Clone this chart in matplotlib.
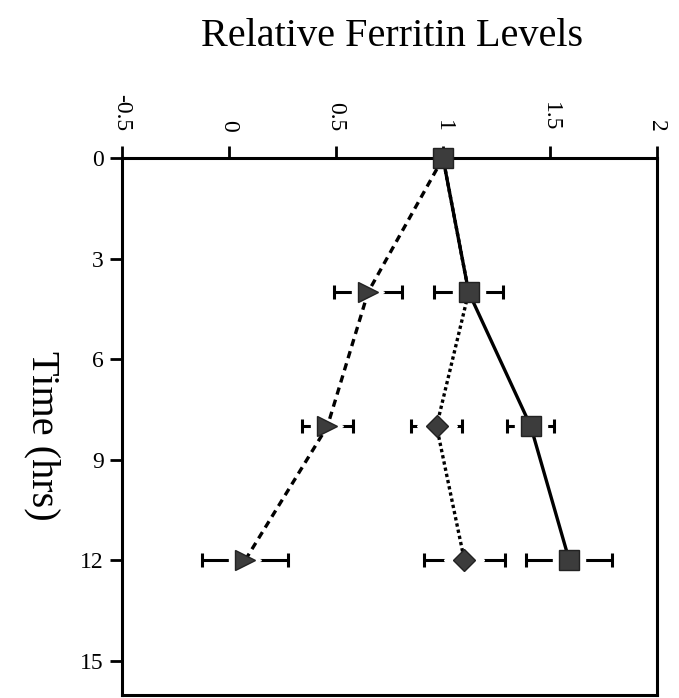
import matplotlib
matplotlib.use("Agg")
import matplotlib.pyplot as plt
import numpy as np

plt.rcParams["font.family"] = ["Liberation Serif", "DejaVu Serif"]

# Relative ferritin level over time for three treatments
hours = [0, 4, 8, 12]
square_vals = [1.0, 1.12, 1.41, 1.59]
square_err = [0.0, 0.16, 0.11, 0.20]
triangle_vals = [1.0, 0.65, 0.46, 0.075]
triangle_err = [0.0, 0.16, 0.12, 0.20]
diamond_vals = [1.0, 1.12, 0.97, 1.10]
diamond_err = [0.0, 0.0, 0.12, 0.19]

x_ticks = [-0.5, 0, 0.5, 1, 1.5, 2]
x_tick_labels = ["-0.5", "0", "0.5", "1", "1.5", "2"]
y_ticks = [0, 3, 6, 9, 12, 15]

W, H = 679, 698
fig = plt.figure(figsize=(W / 100, H / 100), dpi=100)
ax = fig.add_axes([122 / W, 1 - 694.5 / H, (657 - 122) / W, (694.5 - 158) / H])

fill = "#3c3c3c"
series = [
    (square_vals, square_err, "s", 14, "-", None, [0, 1, 2, 3]),
    (triangle_vals, triangle_err, ">", 14, "--", (2.2, 1.6), [1, 2, 3]),
    (diamond_vals, diamond_err, "D", 11, ":", (1.0, 0.9), [2, 3]),
]

for vals, err, mk, ms, ls, dashes, shown in series:
    vals = np.asarray(vals)
    err = np.asarray(err)
    t = np.asarray(hours)
    idx = [i for i in shown if err[i] > 0]
    # error bars, opened up around the marker by a white halo
    ax.errorbar(vals[idx], t[idx], xerr=err[idx], fmt="none", ecolor="black",
                elinewidth=2.2, capsize=5, capthick=2.2, zorder=2)
    ax.plot(vals[idx], t[idx], linestyle="none", marker=mk, ms=ms + 9,
            mfc="white", mec="white", zorder=3)
    line, = ax.plot(vals, t, color="black", lw=2.4, linestyle=ls, zorder=4)
    if dashes is not None:
        line.set_dashes(dashes)
    ax.plot(vals[shown], t[shown], linestyle="none", marker=mk, ms=ms,
            mfc=fill, mec="#222222", mew=1.0, zorder=5, clip_on=False)

ax.set_xlim(-0.5, 2)
ax.set_ylim(16, 0)
ax.xaxis.tick_top()
ax.set_xticks(x_ticks)
ax.set_xticklabels(x_tick_labels, rotation=-90)
ax.set_yticks(y_ticks)
ax.tick_params(axis="x", direction="out", length=9, width=2, labelsize=17, pad=10)
ax.tick_params(axis="y", direction="out", length=9, width=2, labelsize=17, pad=4)
for s in ax.spines.values():
    s.set_linewidth(2.2)

fig.text(392 / W, 1 - 37 / H, "Relative Ferritin Levels", ha="center", va="center",
         fontsize=29)
fig.text(42 / W, 1 - 436 / H, "Time (hrs)", ha="center", va="center",
         rotation=-90, fontsize=29)

fig.savefig("out.png", dpi=100)
